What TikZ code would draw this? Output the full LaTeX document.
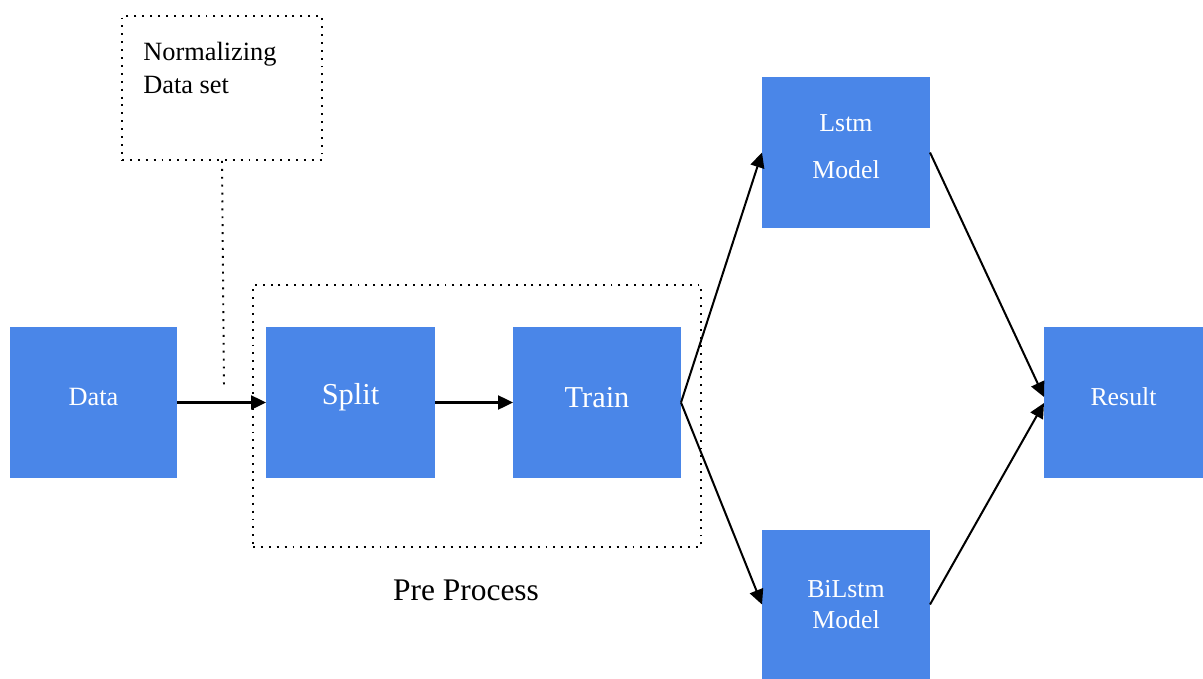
\documentclass[tikz,border=0pt]{standalone}
\usepackage{fontspec}
\setmainfont{Liberation Serif}
\usetikzlibrary{arrows.meta,calc}
\definecolor{boxblue}{HTML}{4A86E8}
\newcommand\pxu{0.02cm}
\tikzset{
  blockbox/.style={fill=boxblue, draw=none, inner sep=0pt, outer sep=0pt,
    text=white, align=center, minimum height=151*\pxu},
  dotline/.style={line width=1.1pt, dash pattern=on 1.1pt off 3.4pt},
  flow/.style={line width=1.15pt, -{Triangle[length=8.5pt,width=8pt]}},
}
\begin{document}
\begin{tikzpicture}[x=0.02cm, y=-0.02cm]
  \useasboundingbox (0,0) rectangle (1203,679);

  % processing blocks (text depth lifts each label slightly above centre)
  \node[blockbox, minimum width=167*\pxu, text depth=6.8pt,
    font=\fontsize{15}{18}\selectfont]
    (data) at (93.5,402.5) {Data};
  \node[blockbox, minimum width=169*\pxu, text depth=9.2pt,
    font=\fontsize{17.3}{20}\selectfont]
    (split) at (350.5,402.5) {Split};
  \node[blockbox, minimum width=168*\pxu, text depth=5.8pt,
    font=\fontsize{17.3}{20}\selectfont]
    (train) at (597,402.5) {Train};
  \node[blockbox, minimum width=168*\pxu, text depth=6.8pt,
    font=\fontsize{14.7}{27.2}\selectfont]
    (lstm) at (846,152.5) {Lstm\\Model};
  \node[blockbox, minimum width=168*\pxu, minimum height=149*\pxu,
    font=\fontsize{14.7}{18.1}\selectfont]
    (bilstm) at (846,604.5) {BiLstm\\Model};
  \node[blockbox, minimum width=159*\pxu, text depth=6.8pt,
    font=\fontsize{14.7}{18}\selectfont]
    (result) at (1123.5,402.5) {Result};

  % normalizing note with its leader line
  \node[draw, dotline, inner sep=0pt, minimum width=200*\pxu, minimum height=144*\pxu]
    (norm) at (222,88) {};
  \node[anchor=north west, inner sep=0pt, align=left,
    font=\fontsize{15}{18.7}\selectfont] (normtext) at (143,42) {Normalizing\\Data set};
  \coordinate (normend) at (224,387);
  \draw[dotline] (norm.south) -- (normend);

  % pre-processing group
  \node[draw, dotline, inner sep=0pt, minimum width=448*\pxu, minimum height=262*\pxu]
    (pre) at (477,416) {};
  \node[font=\fontsize{17.9}{21}\selectfont] (prelabel) at (466,590) {Pre Process};

  % connectors
  \draw[flow] (data.east) -- (split.west);
  \draw[flow] (split.east) -- (train.west);
  \draw[flow] (train.east) -- (lstm.west);
  \draw[flow] (train.east) -- (bilstm.west);
  \draw[flow] (lstm.east) -- ($(result.west)+(0,-5.5)$);
  \draw[flow] (bilstm.east) -- ($(result.west)+(0,0.5)$);
\end{tikzpicture}
\end{document}
